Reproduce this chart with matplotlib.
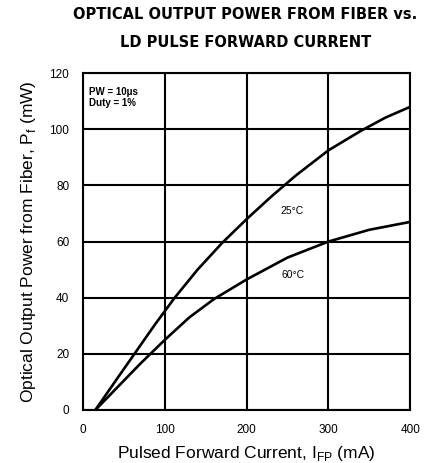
import matplotlib
matplotlib.use("Agg")
import matplotlib.pyplot as plt

plt.rcParams["font.family"] = ["Liberation Sans", "DejaVu Sans"]

# Pulsed forward current (mA) and fiber output power (mW), read per curve
I_25C = [15, 40, 64, 88, 112, 140, 170, 200, 230, 260, 300, 340, 370, 400]
P_25C = [0, 10.5, 20.5, 30.5, 40, 50, 59.5, 68, 76, 83.5, 92.5, 99.5, 104.2, 108]
I_60C = [15, 40, 70, 100, 130, 160, 200, 250, 300, 350, 400]
P_60C = [0, 7.5, 16.5, 25, 33, 39.5, 46.5, 54.3, 60, 64.2, 67]

X_TICKS = [0, 100, 200, 300, 400]
Y_TICKS = [0, 20, 40, 60, 80, 100, 120]

fig = plt.figure(figsize=(4.42, 4.63), dpi=100)
ax = fig.add_axes([0.188, 0.1145, 0.740, 0.7275])

ax.plot(I_25C, P_25C, color="black", lw=1.9, solid_capstyle="round")
ax.plot(I_60C, P_60C, color="black", lw=1.9, solid_capstyle="round")

ax.set_xlim(0, 400)
ax.set_ylim(0, 120)
ax.set_xticks(X_TICKS)
ax.set_yticks(Y_TICKS)
ax.tick_params(length=0, labelsize=8.5, pad=10)
ax.grid(True, color="black", lw=1.5)
for s in ax.spines.values():
    s.set_linewidth(1.5)

ax.text(255, 71, "25°C", fontsize=7.5, ha="center", va="center")
ax.text(257, 48, "60°C", fontsize=7.5, ha="center", va="center")
ax.text(7, 115, "PW = 10\u03bcs\nDuty = 1%", fontsize=7, ha="left", va="top",
        fontweight="bold", linespacing=1.1)

ax.set_xlabel("Pulsed Forward Current, I$_\\mathregular{FP}$ (mA)", fontsize=12.5, labelpad=6)
ax.set_ylabel("Optical Output Power from Fiber, P$_\\mathregular{f}$ (mW)", fontsize=12.5, labelpad=8)

fig.suptitle("OPTICAL OUTPUT POWER FROM FIBER vs.\nLD PULSE FORWARD CURRENT",
             x=0.555, y=0.985, fontsize=10.5, fontweight="bold", linespacing=2.1,
             family="DejaVu Sans")

fig.savefig("out.png", dpi=100, facecolor="white")
